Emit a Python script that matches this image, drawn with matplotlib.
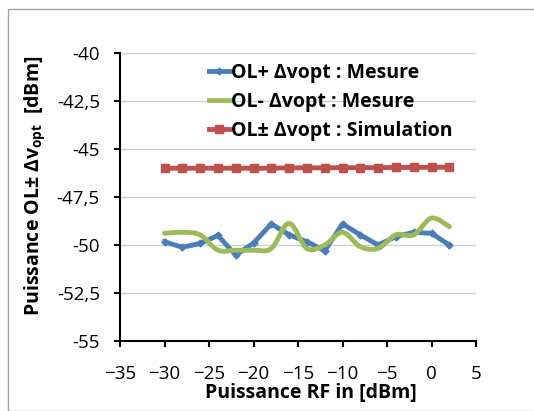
import numpy as np
import matplotlib.pyplot as plt
from matplotlib.path import Path
from matplotlib.patches import PathPatch, Rectangle
from matplotlib.lines import Line2D

plt.rcParams['font.family'] = ['Open Sans', 'DejaVu Sans']

# Data
p_rf = [-30, -28, -26, -24, -22, -20, -18, -16, -14, -12, -10, -8, -6, -4, -2, 0, 2]
ol_plus = [-49.83, -50.12, -49.92, -49.5, -50.53, -49.9, -48.9, -49.47, -49.83,
           -50.3, -48.9, -49.47, -50.0, -49.56, -49.34, -49.39, -50.0]
ol_minus = [-49.39, -49.34, -49.47, -50.27, -50.27, -50.27, -50.18, -48.87, -50.18,
            -50.0, -49.34, -50.09, -50.18, -49.47, -49.47, -48.6, -49.04]
ol_sim = [-46.0, -46.0, -46.0, -46.0, -46.0, -46.0, -46.0, -45.98, -45.98,
          -45.98, -45.97, -45.97, -45.97, -45.96, -45.96, -45.95, -45.95]

xticks = [-35, -30, -25, -20, -15, -10, -5, 0, 5]
yticks = [-55, -52.5, -50, -47.5, -45, -42.5, -40]
ytick_labels = ['-55', '-52,5', '-50', '-47,5', '-45', '-42,5', '-40']

c_blue = '#4A7EBB'
c_green = '#9BBB59'
c_red = '#C0504D'

fig = plt.figure(figsize=(5.34, 4.11), dpi=100)
ax = fig.add_axes([120/534, 1-341/411, 356/534, 288/411])

# chart area border
fig.patches.append(Rectangle((8/534, 0), 1, 1-9.5/411, transform=fig.transFigure,
                             fill=False, edgecolor='#A0A0A0', linewidth=1))

ax.plot(p_rf, ol_plus, color=c_blue, lw=3.5, marker='D', ms=3.5, zorder=3)

# smoothed curve (like Excel "smoothed line") via bezier segments
x = np.array(p_rf, float)
y = np.array(ol_minus, float)
pts = np.column_stack([x, y])
verts = [pts[0]]
codes = [Path.MOVETO]
n = len(pts)
for i in range(n - 1):
    p0 = pts[max(i - 1, 0)]
    p1 = pts[i]
    p2 = pts[i + 1]
    p3 = pts[min(i + 2, n - 1)]
    verts += [p1 + (p2 - p0) / 6, p2 - (p3 - p1) / 6, p2]
    codes += [Path.CURVE4] * 3
ax.add_patch(PathPatch(Path(verts, codes), fill=False, edgecolor=c_green,
                       lw=3.5, capstyle='round', zorder=4))

ax.plot(p_rf, ol_sim, color=c_red, lw=3.5, marker='s', ms=5.5, zorder=3)

ax.set_xlim(-35, 5)
ax.set_ylim(-55, -40)
ax.set_xticks(xticks)
ax.set_yticks(yticks)
ax.set_yticklabels(ytick_labels)
ax.tick_params(labelsize=13.5, width=1.5, length=4.5, color='black')
ax.tick_params(axis='x', pad=13)
ax.tick_params(axis='y', pad=10)
ax.grid(axis='y', color='#D0D0D0', lw=1)
ax.set_axisbelow(True)
for s in ['top', 'right']:
    ax.spines[s].set_visible(False)
for s in ['left', 'bottom']:
    ax.spines[s].set_linewidth(1.5)

ax.set_xlabel('Puissance RF in [dBm]', fontsize=14, fontweight='bold', va='center')
ax.xaxis.set_label_coords(0.535, -0.18)
ax.set_ylabel(r'Puissance OL± Δv$_\mathregular{opt}$  [dBm]', fontsize=14,
              fontweight='bold', va='center')
ax.yaxis.set_label_coords(-0.24, 0.54)

handles = [Line2D([], [], color=c_blue, lw=3.5, marker='D', ms=3.5),
           Line2D([], [], color=c_green, lw=3.5),
           Line2D([], [], color=c_red, lw=3.5, marker='s', ms=5.5)]
labels = ['OL+ Δvopt : Mesure', 'OL- Δvopt : Mesure', 'OL± Δvopt : Simulation']
leg = ax.legend(handles, labels, loc='upper left', bbox_to_anchor=(0.2, 1.025),
                frameon=False, handlelength=1.1, handletextpad=0.05,
                labelspacing=0.45, prop={'size': 14, 'weight': 'bold'})

fig.savefig('out.png', dpi=100)
